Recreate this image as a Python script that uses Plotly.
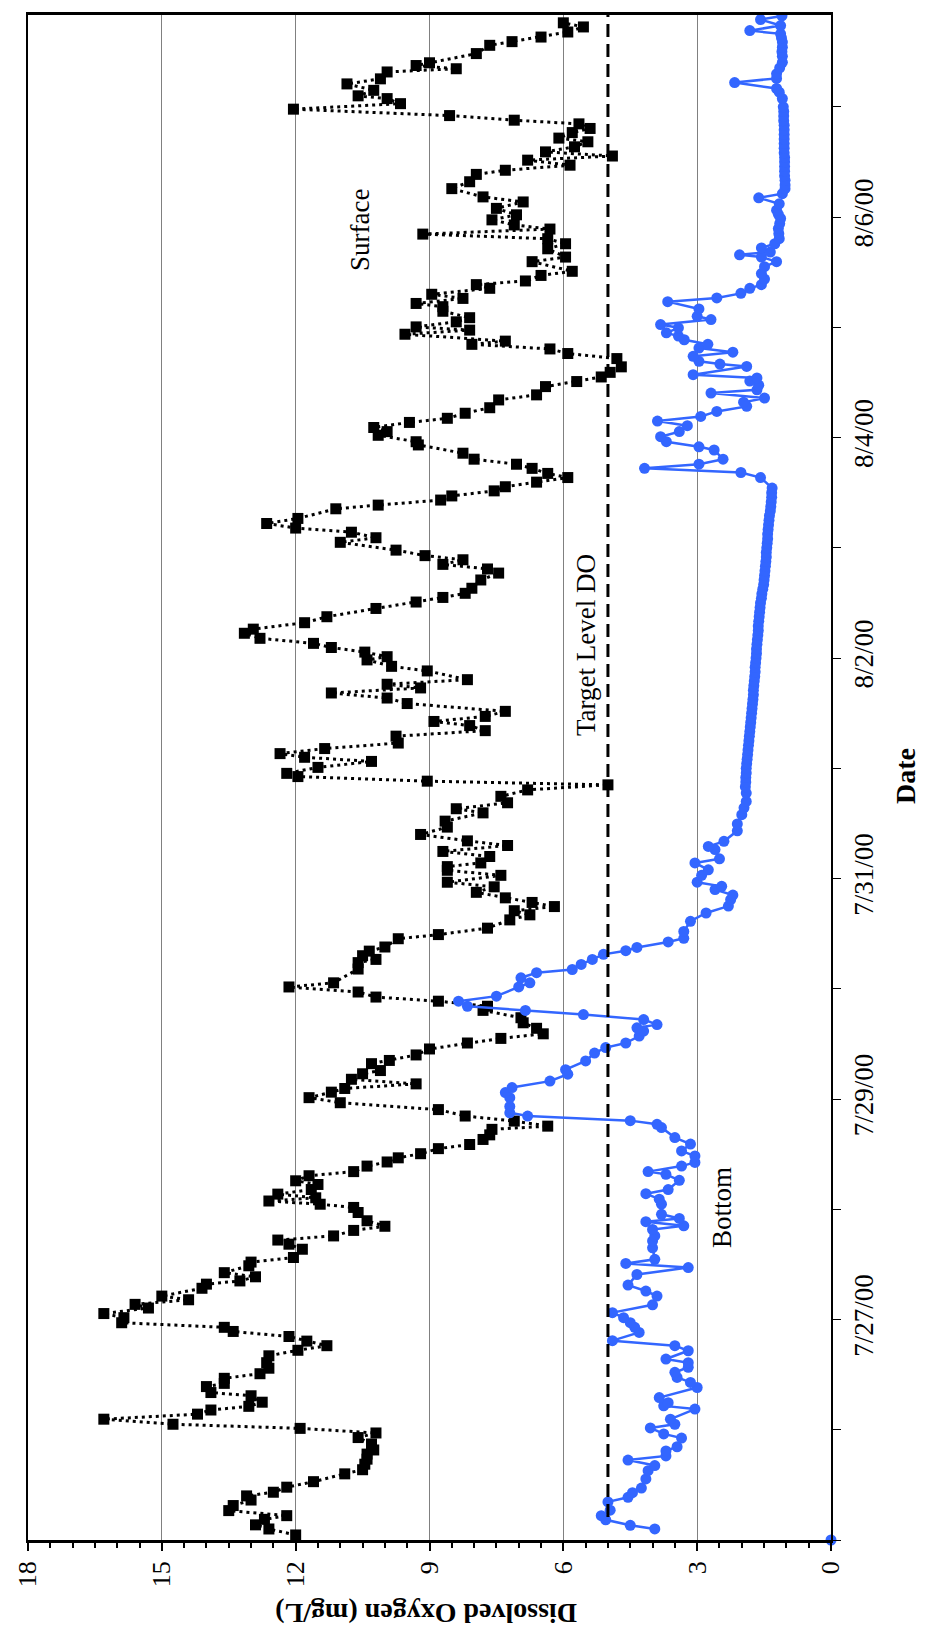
import pandas as pd
import plotly.graph_objects as go

START = pd.Timestamp("2000-07-25 00:00:00")
END = pd.Timestamp("2000-08-07 20:00:00")

# Surface DO: hours after 7/25/00 00:00 and mg/L
surface_hours = [
    1.1, 2.4, 3.3, 4.5, 5.3, 6.4, 7.5, 8.7, 9.6, 10.4, 11.5, 12.7, 14.4, 15.3, 16.5, 17.6, 18.7, 19.6,
    20.9, 22.3, 23.3, 24.3, 25.2, 26.3, 27.4, 28.3, 29.1, 30.0, 31.4, 32.1, 33.4, 34.1, 35.2, 36.2,
    37.4, 38.6, 40.1, 41.3, 42.3, 43.3, 44.3, 45.4, 46.3, 47.3, 48.4, 49.3, 50.5, 51.3, 52.3, 53.1,
    54.8, 55.7, 56.4, 57.3, 58.2, 59.7, 60.5, 61.5, 63.3, 64.4, 65.3, 66.2, 67.4, 68.3, 69.5, 71.3,
    72.4, 73.1, 73.8, 74.5, 75.3, 76.3, 77.4, 78.2, 79.3, 80.2, 81.4, 82.3, 83.2, 84.1, 85.2, 86.1,
    87.2, 88.2, 89.4, 90.1, 91.2, 92.3, 93.7, 95.2, 96.3, 97.5, 98.3, 99.3, 100.3, 101.5, 102.2,
    103.7, 104.4, 105.6, 106.9, 108.2, 109.2, 110.2, 111.4, 112.6, 113.7, 115.3, 116.2, 117.3,
    118.2, 119.3, 120.4, 121.3, 124.3, 125.7, 126.4, 127.2, 128.2, 129.1, 130.9, 131.8, 133.2,
    135.0, 136.1, 137.0, 137.9, 138.8, 139.8, 141.0, 142.2, 143.2, 144.7, 145.8, 146.6, 147.4,
    148.8, 149.9, 151.2, 152.2, 153.6, 155.2, 156.5, 158.3, 159.2, 160.5, 161.9, 163.3, 164.4,
    165.2, 166.2, 166.9, 168.2, 169.5, 170.4, 171.2, 172.3, 173.5, 175.0, 176.2, 177.3, 178.2,
    179.3, 180.4, 182.1, 183.3, 184.4, 185.5, 186.3, 187.3, 189.2, 190.2, 191.6, 192.3, 193.3,
    194.3, 195.2, 196.3, 197.4, 198.3, 199.7, 201.0, 202.8, 204.2, 205.2, 206.1, 207.2, 209.0,
    210.5, 211.4, 212.4, 213.4, 214.3, 215.5, 217.2, 218.2, 219.4, 220.3, 221.3, 222.4, 224.5,
    225.3, 226.4, 227.3, 228.4, 229.3, 230.3, 231.3, 232.2, 233.3, 234.2, 235.3, 236.6, 238.4,
    239.1, 240.5, 241.3, 242.2, 243.3, 244.2, 245.3, 246.5, 248.2, 249.3, 251.1, 252.2, 253.2,
    254.2, 255.4, 257.2, 258.3, 259.3, 260.3, 261.0, 262.5, 263.4, 264.1, 265.2, 266.1, 267.5,
    268.5, 269.2, 270.3, 271.2, 272.5, 273.3, 274.1, 275.3, 276.2, 278.3, 279.3, 281.1, 282.2,
    283.3, 284.3, 285.4, 286.3, 287.4, 288.5, 289.9, 291.3, 292.4, 294.2, 295.7, 297.3, 298.2,
    299.3, 300.4, 301.3, 302.2, 303.3, 304.4, 305.2, 306.4, 307.3, 308.3, 309.1, 310.1, 311.5,
    312.7, 313.8, 314.4, 315.6, 317.0, 318.1, 319.6, 320.3, 321.0, 321.6, 323.6, 325.4, 326.2,
    327.2, 328.3, 329.4, 330.3,
]
surface_do = [
    12.0, 12.6, 12.9, 12.7, 12.2, 13.5, 13.4, 13.0, 13.1, 12.5, 12.2, 11.6, 10.9, 10.5, 10.45, 10.4, 10.4, 10.25,
    10.3, 10.6, 10.2, 11.9, 14.75, 16.3, 14.2, 13.9, 13.05, 12.75, 13.0, 13.9, 14.0, 13.6, 13.6, 12.8,
    12.6, 12.65, 12.6, 11.95, 11.3, 11.75, 12.15, 13.4, 13.6, 15.9, 15.85, 16.3, 15.3, 15.6, 14.4, 15.0,
    14.1, 14.0, 13.25, 12.9, 13.6, 13.05, 13.0, 12.05, 11.85, 12.15, 12.4, 11.15, 10.7, 10.0, 10.4, 10.6,
    10.7, 11.45, 12.6, 11.55, 12.4, 11.65, 11.5, 12.0, 11.7, 10.7, 10.4, 9.95, 9.7, 9.2, 8.8, 8.1,
    7.8, 7.65, 7.6, 6.35, 7.1, 8.2, 8.8, 11.0, 11.7, 11.2, 10.9, 9.3, 10.75, 10.5, 10.1,
    10.3, 9.9, 9.3, 9.0, 8.15, 7.4, 6.45, 6.6, 6.9, 6.95, 7.8, 7.7, 8.8,
    10.2, 10.6, 12.15, 11.15, 10.6, 10.6, 10.2, 10.5, 10.35, 10.0, 9.7, 8.8, 7.7,
    7.2, 6.75, 7.1, 6.2, 6.7, 7.3, 7.95, 7.55, 8.6, 7.4, 8.6, 8.6, 7.85,
    7.65, 8.7, 7.25, 8.15, 9.2, 8.6, 8.65, 7.8, 8.4, 7.25, 7.4, 6.8, 5.0,
    9.05, 11.95, 12.2, 11.5, 10.3, 11.8, 12.35, 11.35, 9.7, 9.75, 7.75, 8.1, 8.9,
    7.75, 7.3, 9.5, 9.95, 11.2, 9.2, 9.95, 8.15, 9.05, 9.85, 10.4, 9.95, 10.45,
    11.2, 11.6, 12.8, 13.15, 12.95, 11.8, 11.3, 10.2, 9.3, 8.7, 8.2, 8.05, 7.85,
    7.45, 7.7, 8.7, 8.25, 9.1, 9.75, 11.0, 10.2, 10.75, 12.0, 12.65, 11.95, 11.1,
    10.15, 8.75, 8.5, 7.55, 7.3, 6.6, 5.9, 6.35, 6.7, 7.05, 8.0, 8.25, 9.25,
    9.3, 10.15, 9.95, 10.25, 9.45, 8.6, 8.2, 7.65, 7.45, 6.6, 6.4, 5.7, 5.15,
    4.95, 4.7, 4.8, 5.9, 6.3, 8.05, 7.3, 9.55, 8.1, 9.3, 8.4, 8.1, 8.7,
    8.7, 9.3, 8.25, 8.95, 7.65, 7.95, 6.85, 6.5, 5.8, 6.7, 5.95, 6.35, 5.95,
    6.35, 9.15, 6.3, 7.1, 7.6, 7.05, 7.5, 6.9, 7.8, 8.5, 8.1, 7.95, 7.3,
    5.85, 6.8, 4.9, 6.4, 5.75, 5.45, 6.1, 5.8, 5.4, 5.65, 7.1, 8.55, 12.05,
    9.65, 9.95, 10.6, 10.25, 10.85, 10.1, 9.95, 8.4, 9.3, 9.0, 7.95, 7.65, 7.15,
    6.5, 5.9, 5.55, 6.0,
]

# Bottom DO: hours after 7/25/00 00:00 and mg/L
bottom_hours = [
    2.4, 3.2, 4.4, 5.3, 6.5, 8.3, 9.3, 10.3, 11.3, 13.3, 15.1, 16.2, 17.4, 18.3, 19.4, 20.3, 22.2,
    23.1, 24.4, 25.2, 26.3, 28.5, 29.2, 29.9, 31.0, 33.2, 34.3, 35.4, 36.5, 37.6, 38.6, 39.4, 41.2,
    42.3, 43.4, 45.2, 46.3, 47.3, 48.4, 49.5, 51.2, 53.1, 54.2, 55.5, 57.8, 59.3, 60.2, 61.1, 63.6,
    65.1, 66.2, 67.6, 68.4, 69.3, 70.0, 70.9, 73.1, 74.2, 75.4, 76.3, 78.3, 79.6, 80.2, 81.4, 82.2,
    83.6, 84.7, 86.2, 87.6, 89.8, 90.5, 91.3, 92.3, 93.0, 94.4, 96.3, 97.4, 98.5, 99.9, 101.4, 102.4,
    104.3, 106.0, 107.2, 108.2, 109.7, 110.8, 111.5, 112.2, 113.3, 114.4, 115.3, 116.2, 117.3, 118.4,
    120.4, 121.3, 122.4, 123.5, 124.2, 125.3, 126.4, 127.5, 128.3, 129.0, 130.2, 131.0, 132.5, 134.7,
    136.5, 138.0, 139.4, 140.4, 141.6, 142.3, 143.2, 144.7, 145.9, 147.4, 148.3, 150.3, 151.0, 152.1,
    154.4, 155.9, 157.9, 159.4, 160.8, 162.6,
    164, 165, 166, 167, 168, 169, 170, 171, 172, 173, 174, 175, 176, 177, 178, 179, 180, 181, 182,
    183, 184, 185, 186, 187, 188, 189, 190, 191, 192, 193, 194, 195, 196, 197, 198, 199, 200, 201,
    202, 203, 204, 205, 206, 207, 208, 209, 210, 211, 212, 213, 214, 215, 216, 217, 218, 219, 220,
    221, 222, 223, 224, 225, 226, 227, 228, 229,
    231.3, 232.4, 233.3, 234.2, 235.3, 237.3, 238.0, 239.1, 240.2, 241.3, 242.6, 243.6, 244.6, 245.7,
    246.8, 247.7, 248.6, 249.7, 250.4, 251.4, 252.3, 253.0, 253.7, 255.5, 256.0, 256.6, 257.7, 258.6,
    259.5, 260.3, 261.3, 262.1, 262.8, 263.9, 264.6, 265.7, 266.4, 268.0, 269.6, 270.4, 271.4, 272.5,
    273.3, 274.5, 275.7, 277.2, 278.3, 279.3, 279.8, 280.4, 281.3, 282.2, 283.3, 284.4, 285.5, 286.6,
    287.7, 288.6, 289.5, 290.9, 292.2, 293.1, 294.2,
    295, 296, 297, 298, 299, 300, 301, 302, 303, 304, 305, 306, 307, 308, 309, 310, 311, 312,
    313.8, 315.2, 316.0, 317.3, 318.2, 319.2, 320.5, 321.7, 323.0, 324.0, 325.0, 326.1, 327.0, 327.9,
    328.6, 329.7, 331.0, 331.8,
]
bottom_do = [
    3.95, 4.5, 5.05, 5.15, 4.95, 5.0, 4.55, 4.45, 4.25, 4.15, 4.1, 3.95, 4.55, 3.7, 3.7, 3.45, 3.35,
    3.75, 4.05, 3.5, 3.6, 3.05, 3.75, 3.65, 3.85, 3.0, 3.15, 3.45, 3.5, 3.2, 3.2, 3.7, 3.2,
    3.5, 4.9, 4.3, 4.4, 4.5, 4.65, 4.9, 4.0, 3.9, 4.15, 4.55, 4.35, 3.2, 4.6, 3.95, 4.0,
    4.0, 3.95, 4.0, 3.3, 4.15, 3.4, 3.8, 3.8, 3.85, 4.15, 3.65, 3.4, 3.7, 4.1, 3.35, 3.05,
    3.05, 3.35, 3.15, 3.5, 3.8, 3.9, 4.5, 6.8, 7.2, 7.2, 7.2, 7.3, 7.15, 6.3, 5.9, 5.95,
    5.5, 5.3, 5.05, 4.6, 4.3, 4.2, 4.35, 3.9, 4.2, 5.55, 6.85, 8.15, 8.35, 7.5,
    7.0, 6.75, 6.95, 6.6, 5.8, 5.6, 5.35, 5.1, 4.6, 4.35, 3.65, 3.3, 3.3, 3.15,
    2.8, 2.3, 2.25, 2.2, 2.6, 2.45, 3.0, 2.9, 2.75, 3.05, 2.5, 2.6, 2.75, 2.4,
    2.1, 2.1, 2.0, 1.95, 1.9, 1.9,
    1.92, 1.91, 1.91, 1.9, 1.9, 1.89, 1.88, 1.87, 1.86, 1.85, 1.84, 1.83, 1.82, 1.81, 1.8, 1.79, 1.78,
    1.77, 1.76, 1.75, 1.74, 1.74, 1.73, 1.72, 1.71, 1.7, 1.7, 1.69, 1.68, 1.67, 1.67, 1.66, 1.65, 1.64,
    1.63, 1.63, 1.62, 1.61, 1.6, 1.59, 1.58, 1.56, 1.55, 1.53, 1.51, 1.5, 1.49, 1.48, 1.47, 1.46, 1.45,
    1.45, 1.44, 1.43, 1.42, 1.42, 1.41, 1.4, 1.39, 1.38, 1.36, 1.35, 1.34, 1.33, 1.33, 1.32,
    1.58, 2.02, 4.18, 2.96, 2.42, 2.62, 2.96, 3.69, 3.82, 3.4, 3.22, 3.89, 2.92, 2.56,
    1.89, 1.96, 1.49, 2.69, 1.66, 1.62, 1.82, 1.66, 3.09, 1.89, 2.49, 2.96, 3.09, 2.2,
    2.96, 2.76, 3.29, 3.42, 3.69, 3.42, 3.82, 2.69, 3.0, 2.96, 3.66, 2.56, 2.02, 1.82,
    1.56, 1.49, 1.56, 1.49, 1.22, 1.56, 2.05, 1.36, 1.56, 1.26, 1.16, 1.17, 1.18, 1.15,
    1.13, 1.18, 1.22, 1.16, 1.62, 1.09, 1.03,
    1.03, 1.03, 1.04, 1.04, 1.04, 1.04, 1.04, 1.05, 1.05, 1.05, 1.05, 1.05, 1.05, 1.05, 1.06, 1.06, 1.06, 1.07,
    1.09, 1.16, 1.22, 2.16, 1.22, 1.22, 1.15, 1.09, 1.09, 1.1, 1.09, 1.09, 1.11, 1.13,
    1.82, 1.13, 1.58, 1.1,
]

# Lone bottom reading plotted at the axis origin
bottom_start_hours = [0.0]
bottom_start_do = [0.0]

# Target level DO
target_hours = [5.0, 332.0]
target_do = [5.0, 5.0]

do_ticks = [0, 3, 6, 9, 12, 15, 18]
date_labels = ["7/27/00", "7/29/00", "7/31/00", "8/2/00", "8/4/00", "8/6/00"]


def to_time(hours):
    return [START + pd.Timedelta(hours=h) for h in hours]


SERIF = "Liberation Serif, Times New Roman, serif"
BLUE = "#3366FF"

fig = go.Figure()
fig.add_trace(go.Scatter(
    x=surface_do, y=to_time(surface_hours), mode="lines+markers",
    line=dict(color="black", width=3, dash="3px,4px"),
    marker=dict(symbol="square", size=11, color="black"),
    name="Surface"))
fig.add_trace(go.Scatter(
    x=bottom_do, y=to_time(bottom_hours), mode="lines+markers",
    line=dict(color=BLUE, width=2.5),
    marker=dict(symbol="circle", size=11, color=BLUE),
    name="Bottom"))
fig.add_trace(go.Scatter(
    x=bottom_start_do, y=to_time(bottom_start_hours), mode="markers",
    marker=dict(symbol="circle", size=11, color=BLUE), cliponaxis=False,
    name="Bottom start"))
fig.add_trace(go.Scatter(
    x=target_do, y=to_time(target_hours), mode="lines",
    line=dict(color="black", width=3, dash="13px,7px"),
    name="Target Level DO"))

day_ticks = list(pd.date_range(START, END.normalize(), freq="D"))
label_map = {pd.Timestamp("2000-%s-%s" % (lbl.split("/")[0].zfill(2), lbl.split("/")[1].zfill(2))): lbl
             for lbl in date_labels}
day_text = [label_map.get(d, "") for d in day_ticks]

fig.update_layout(
    template="none",
    width=926, height=1627,
    margin=dict(l=20, r=103, t=7, b=95),
    paper_bgcolor="white", plot_bgcolor="white",
    showlegend=False,
    font=dict(family=SERIF, color="black"),
    xaxis=dict(
        range=[18, 0], tickmode="array", tickvals=do_ticks,
        ticktext=[str(v) for v in do_ticks], tickangle=-90,
        ticks="outside", ticklen=8, tickwidth=2, tickcolor="black",
        tickfont=dict(family=SERIF, size=26, color="black"),
        showgrid=True, gridcolor="#808080", gridwidth=1,
        showline=True, linecolor="black", linewidth=2.5, mirror=True,
        zeroline=False, automargin=False,
        minor=dict(tickmode="linear", tick0=0, dtick=0.5, ticks="outside",
                   ticklen=5, tickwidth=1.5, tickcolor="black", showgrid=False),
    ),
    yaxis=dict(
        type="date", range=[START, END], side="right",
        tickmode="array", tickvals=day_ticks, ticktext=day_text, tickangle=-90,
        ticks="outside", ticklen=8, tickwidth=1, tickcolor="black",
        tickfont=dict(family=SERIF, size=27, color="black"),
        showgrid=False, showline=True, linecolor="black", linewidth=2, mirror=True,
        zeroline=False, automargin=False,
    ),
)

# pixel -> paper helpers for text placed outside the plot
PL, PR, PT, PB = 20, 823, 7, 1532


def px(x):
    return (x - PL) / (PR - PL)


def py(y):
    return (PB - y) / (PB - PT)


annotations = [
    dict(text="<b>Dissolved Oxygen (mg/L)</b>", x=px(418), y=py(1605), textangle=180,
         font=dict(size=28)),
    dict(text="<b>Date</b>", x=px(897), y=py(768), textangle=-90, font=dict(size=28)),
    dict(text="Surface", x=px(352), y=py(222), textangle=-90, font=dict(size=27)),
    dict(text="Bottom", x=px(714), y=py(1200), textangle=-90, font=dict(size=27)),
    dict(text="Target Level DO", x=px(578), y=py(637), textangle=-90, font=dict(size=27)),
]
for a in annotations:
    a.update(xref="paper", yref="paper", showarrow=False, xanchor="center", yanchor="middle",
             borderpad=0)
    a["font"].update(family=SERIF, color="black")
fig.update_layout(annotations=annotations)

fig.write_html("out.html")
